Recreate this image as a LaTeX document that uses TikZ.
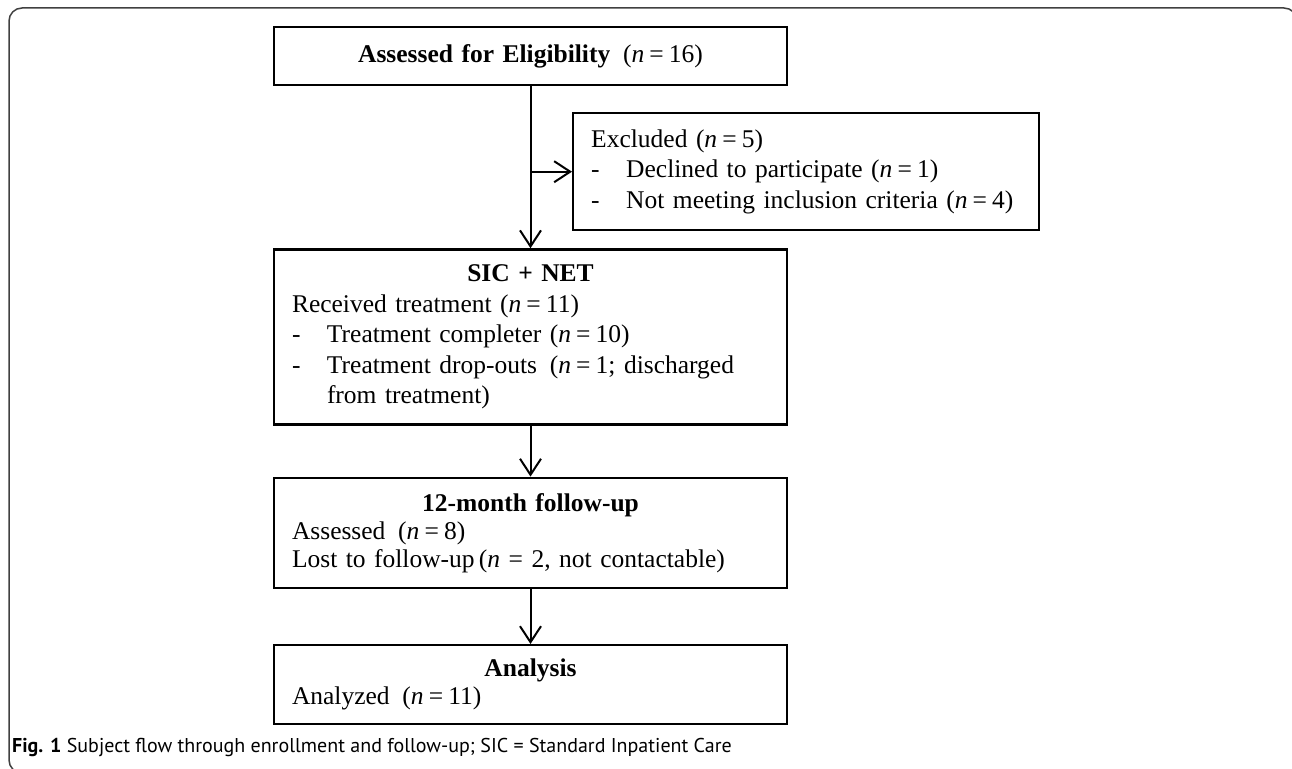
\documentclass[tikz,border=0pt]{standalone}
\usepackage{fontspec}
\setmainfont{Liberation Serif}
\newfontfamily\capfont{PT Sans}
\usepackage{tikz}
\usetikzlibrary{arrows.meta, positioning}

\newcommand{\nval}[1]{(\textit{n}\kern0.2em=\kern0.2em#1)}
\newcommand{\dashitem}[1]{\par\noindent\makebox[35pt][l]{-}%
  \parbox[t]{\dimexpr\hsize-35pt\relax}{\raggedright #1}}

\begin{document}
\begin{tikzpicture}[
  x=1pt, y=-1pt,
  every node/.style={font=\fontsize{25.5}{30.5}\selectfont},
  flowbox/.style={rectangle, draw, line width=2.4pt, text width=477pt,
                  inner xsep=18pt, inner ysep=4pt, align=left},
  sidebox/.style={flowbox, text width=430pt},
  tightbox/.style={flowbox, font=\fontsize{25.5}{28}\selectfont},
  arrow/.style={-{Straight Barb[length=16pt, width=21pt]}, line width=2pt}
]
\useasboundingbox (0,0) rectangle (1292,768);
\clip (0,0) rectangle (1292,768);

% ---- Frame ----
\draw [line width=1.5pt, black!75, rounded corners=13pt] (9,8) rectangle (1297,773);

% ---- Boxes ----
\node (elig) [flowbox, align=center, minimum height=58pt] at (530.5,56)
  {\textbf{Assessed for Eligibility}\enspace\nval{16}};

\node (excluded) [sidebox, anchor=north west, minimum height=117pt] at (572,112)
  {Excluded \nval{5}
   \dashitem{Declined to participate \nval{1}}
   \dashitem{Not meeting inclusion criteria \nval{4}}};

\node (sicnet) [flowbox, below=162pt of elig, minimum height=175pt]
  {{\centering\textbf{SIC + NET}\par}
   Received treatment \nval{11}
   \dashitem{Treatment completer \nval{10}}
   \dashitem{Treatment drop-outs\enspace(\textit{n}\kern0.2em=\kern0.2em1; discharged from treatment)}};

\node (followup) [tightbox, below=51pt of sicnet, minimum height=110pt]
  {{\centering\textbf{12-month follow-up}\par}
   Assessed\enspace\nval{8}\par
   Lost to follow-up\,(\textit{n} = 2, not contactable)};

\node (analysis) [tightbox, below=55pt of followup, minimum height=79pt]
  {{\centering\textbf{Analysis}\par}
   Analyzed\enspace\nval{11}};

% ---- Caption ----
\node (caption) [anchor=base west, inner sep=0pt, font=\capfont\fontsize{20}{24}\selectfont]
  at (12,752) {\textbf{Fig. 1} Subject flow through enrollment and follow-up; SIC = Standard Inpatient Care};

% ---- Arrows ----
\draw [arrow] (elig) -- (sicnet);
\draw [arrow] (elig.south |- excluded.west) -- (excluded.west);
\draw [arrow] (sicnet) -- (followup);
\draw [arrow] (followup) -- (analysis);
\end{tikzpicture}
\end{document}
